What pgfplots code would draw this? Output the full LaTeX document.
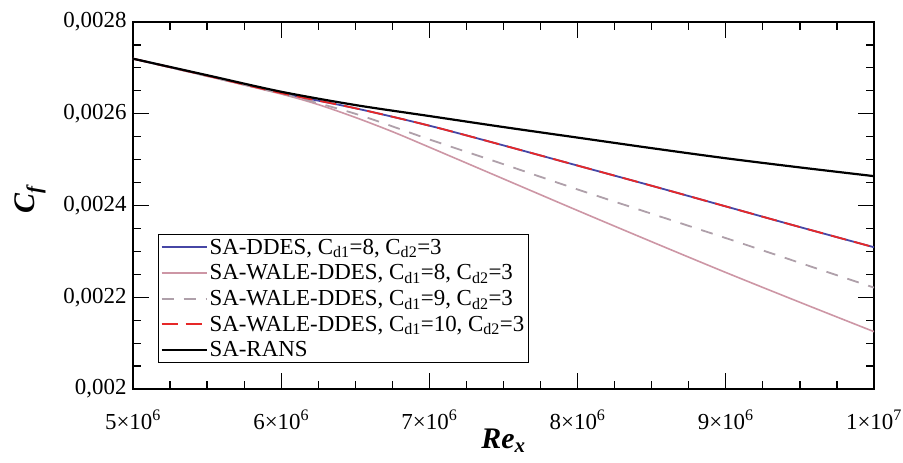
\documentclass[border=0pt]{standalone}
\usepackage{pgfplots}
\pgfplotsset{compat=1.18}
\usepackage{fontspec}
\setmainfont{Liberation Serif}
\definecolor{ddesblue}{RGB}{70,70,165}
\definecolor{walepink}{RGB}{205,150,165}
\definecolor{walegray}{RGB}{175,160,170}
\definecolor{walered}{RGB}{230,40,40}
\begin{document}
\begin{tikzpicture}[font=\fontsize{23}{26}\selectfont]
\useasboundingbox (-133bp,-74bp) rectangle (770bp,389bp);
\begin{axis}[
  scale only axis,
  width=741bp, height=367bp,
  xmin=5e6, xmax=1e7, ymin=0.002, ymax=0.0028,
  xtick={5e6,6e6,7e6,8e6,9e6,1e7},
  xticklabels={5×10\textsuperscript{6},6×10\textsuperscript{6},7×10\textsuperscript{6},8×10\textsuperscript{6},9×10\textsuperscript{6},1×10\textsuperscript{7}},
  ytick={0.002,0.0022,0.0024,0.0026,0.0028},
  yticklabels={{0,002},{0,0022},{0,0024},{0,0026},{0,0028}},
  scaled x ticks=false, scaled y ticks=false,
  minor x tick num=3, minor y tick num=3,
  tick align=inside, tick pos=both,
  major tick length=16bp, minor tick length=8bp,
  every tick/.style={black, line width=1.2bp},
  axis line style={line width=1.8bp},
  xticklabel style={yshift=-17bp},
  yticklabel style={xshift=-3bp},
  xlabel={\fontsize{30}{32}\selectfont\textbf{\textit{Re\textsubscript{x}}}},
  ylabel={\fontsize{30}{32}\selectfont\textbf{\textit{C\textsubscript{f}}}},
  xlabel style={yshift=7bp},
  ylabel style={yshift=11bp, xshift=6bp},
  legend style={at={(0.034,0.071)}, anchor=south west, draw=black, line width=1.2bp, fill=white,
    font=\fontsize{23}{25}\selectfont, row sep=5bp, inner sep=2bp,
    cells={anchor=west}},
  legend image code/.code={\draw[#1, line width=1.8bp] (0bp,0bp) -- (45bp,0bp);},
]
\addplot[ddesblue, line width=1.8bp, smooth] coordinates {
(5e6,0.00272) (5.5e6,0.002683) (6e6,0.002645) (6.5e6,0.002612) (7e6,0.002574) (7.5e6,0.002531) (8e6,0.002487) (8.5e6,0.002443) (9e6,0.002398) (9.5e6,0.002353) (1e7,0.002309)};
\addlegendentry{SA-DDES, C\textsubscript{d1}=8, C\textsubscript{d2}=3}
\addplot[walepink, line width=1.6bp, smooth] coordinates {
(5e6,0.00272) (5.5e6,0.002682) (6e6,0.002643) (6.25e6,0.00262) (6.5e6,0.002592) (6.75e6,0.002561) (7e6,0.002527) (7.5e6,0.002458) (8e6,0.002389) (8.5e6,0.002321) (9e6,0.002254) (9.5e6,0.002189) (1e7,0.002125)};
\addlegendentry{SA-WALE-DDES, C\textsubscript{d1}=8, C\textsubscript{d2}=3}
\addplot[walegray, line width=1.8bp, dash pattern=on 12bp off 10bp, smooth] coordinates {
(5e6,0.00272) (5.5e6,0.002682) (6e6,0.002644) (6.5e6,0.0026) (7e6,0.002544) (7.5e6,0.00249) (8e6,0.002435) (8.5e6,0.002382) (9e6,0.002329) (9.5e6,0.002275) (1e7,0.002221)};
\addlegendentry{SA-WALE-DDES, C\textsubscript{d1}=9, C\textsubscript{d2}=3}
\addplot[walered, line width=1.8bp, dash pattern=on 16bp off 8bp, smooth] coordinates {
(5e6,0.00272) (5.5e6,0.002683) (6e6,0.002645) (6.5e6,0.002612) (7e6,0.002574) (7.5e6,0.002531) (8e6,0.002487) (8.5e6,0.002443) (9e6,0.002398) (9.5e6,0.002353) (1e7,0.002309)};
\addlegendentry{SA-WALE-DDES, C\textsubscript{d1}=10, C\textsubscript{d2}=3}
\addplot[black, line width=2.2bp, smooth] coordinates {
(5e6,0.00272) (5.5e6,0.002684) (6e6,0.002648) (6.5e6,0.002619) (7e6,0.002595) (7.5e6,0.002571) (8e6,0.002548) (8.5e6,0.002525) (9e6,0.002503) (9.5e6,0.002483) (1e7,0.002464)};
\addlegendentry{SA-RANS}
\end{axis}
\end{tikzpicture}
\end{document}
